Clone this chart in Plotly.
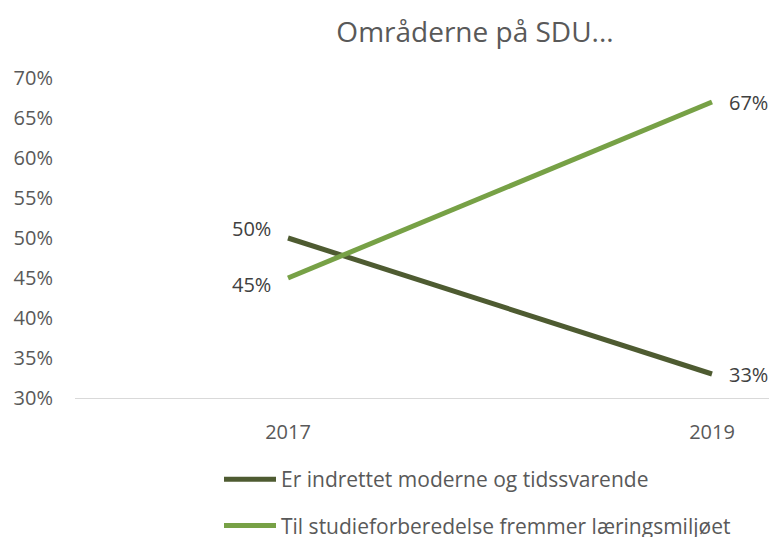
import plotly.graph_objects as go

years = ["2017", "2019"]
series_names = ["Er indrettet moderne og tidssvarende",
                "Til studieforberedelse fremmer læringsmiljøet"]
moderne = [0.50, 0.33]
studie = [0.45, 0.67]
y_ticks = [0.30, 0.35, 0.40, 0.45, 0.50, 0.55, 0.60, 0.65, 0.70]
colors = ["#4E5B31", "#77A146"]
FONT = "Open Sans, sans-serif"

W, H = 769, 529

fig = go.Figure()
for name, vals, col, grp in [(series_names[0], moderne, colors[0], "a"),
                             (series_names[1], studie, colors[1], "b")]:
    fig.add_trace(go.Scatter(x=years, y=vals, mode="lines", name=name,
                             line=dict(color=col, width=5), legendgroup=grp))

# data labels (x given as category index)
label_specs = [
    (0, moderne[0], "right", -15, 10),
    (0, studie[0], "right", -15, -6),
    (1, moderne[1], "left", 15, 0),
    (1, studie[1], "left", 15, 0),
]
for x, y, xa, xs, ys in label_specs:
    fig.add_annotation(x=x, y=y, xref="x", yref="y", text=f"{round(y*100)}%",
                       showarrow=False, xanchor=xa, yanchor="middle",
                       xshift=xs, yshift=ys,
                       font=dict(size=20, color="#404040", family=FONT))

fig.update_layout(
    width=W, height=H,
    margin=dict(l=67, r=0, t=70, b=139, autoexpand=False),
    plot_bgcolor="white", paper_bgcolor="white",
    font=dict(family=FONT, color="#595959", size=20),
    title=dict(text="Områderne på SDU...", x=467/W, xref="container", xanchor="center",
               y=1 - 24/H, yref="container", yanchor="middle",
               font=dict(size=28, color="#595959", family=FONT)),
    showlegend=True,
    legend=dict(orientation="v", x=211/W, xanchor="left", y=1 - 451/H, yanchor="top",
                xref="container", yref="container", tracegroupgap=16, itemwidth=52,
                font=dict(size=21, color="#595959", family=FONT)),
    xaxis=dict(type="category", range=[-213/424, 1 + 65/424], showgrid=False,
               showline=True, linecolor="#D9D9D9", linewidth=1, ticks="",
               ticklabelstandoff=16, zeroline=False,
               tickfont=dict(size=20, color="#595959", family=FONT)),
    yaxis=dict(range=[0.30, 0.70], tickvals=y_ticks, tickformat=".0%",
               showgrid=False, showline=False, zeroline=False, ticks="",
               ticklabelstandoff=21,
               tickfont=dict(size=20, color="#595959", family=FONT)),
)
fig.write_html("out.html")
